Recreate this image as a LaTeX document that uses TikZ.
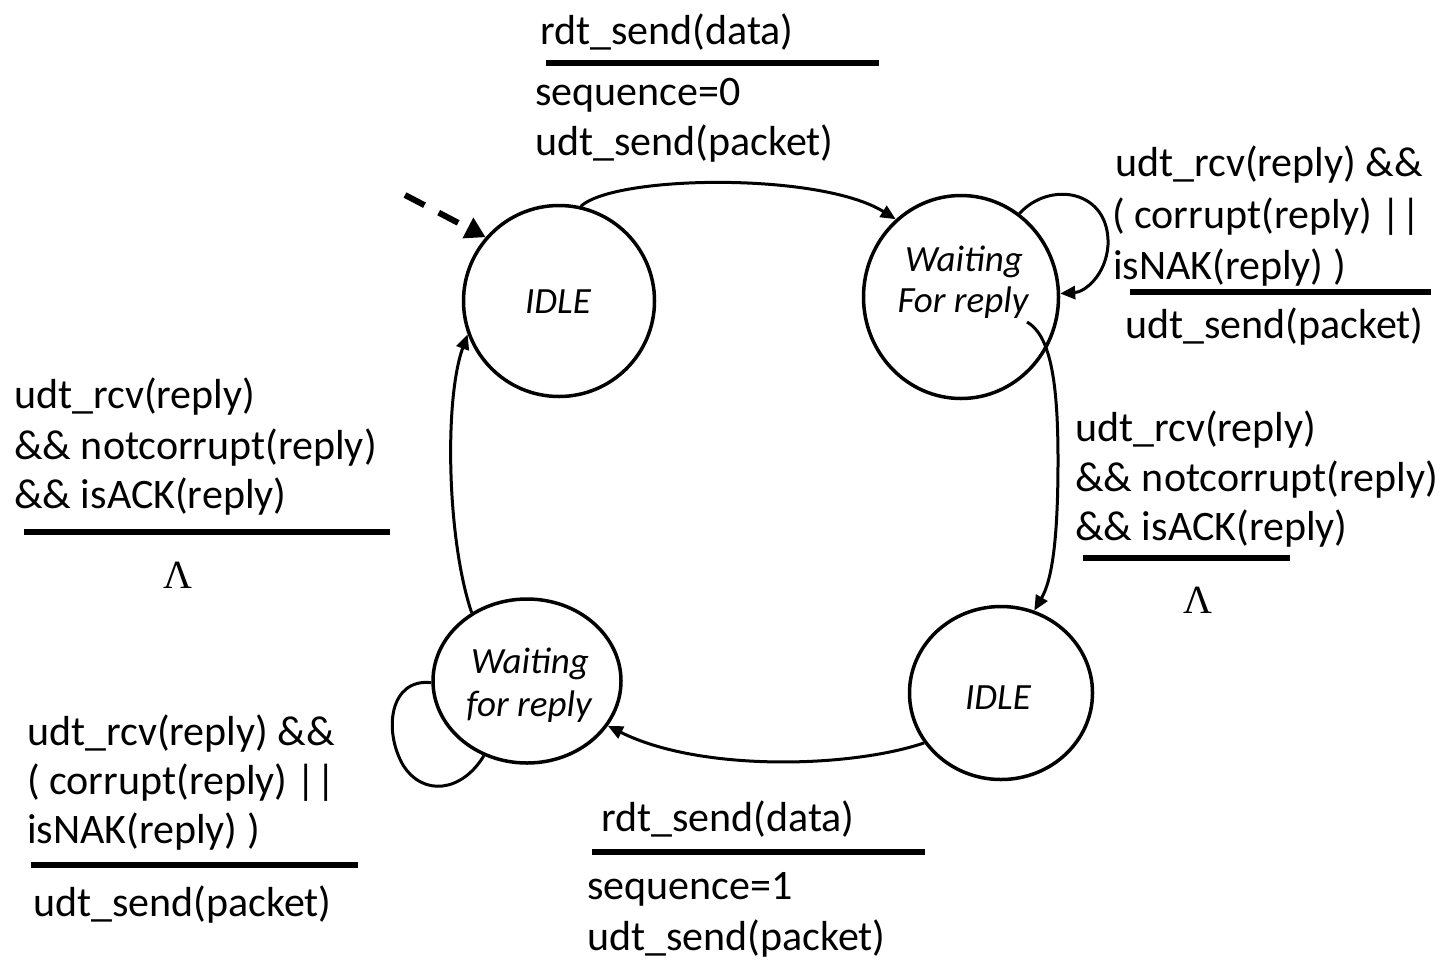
\documentclass[tikz,border=0pt]{standalone}
\usepackage{fontspec}
\setmainfont{Carlito}
\newfontfamily\lamfont{Liberation Serif}
\usetikzlibrary{shapes.geometric,arrows.meta,calc}
\begin{document}
\begin{tikzpicture}[x=1pt,y=-1pt,
  stnode/.style={draw,ellipse,line width=3.5pt,inner sep=0pt},
  sttext/.style={anchor=base,inner sep=0pt,font=\itshape\fontsize{37}{43}\selectfont},
  lbl/.style={anchor=base west,inner sep=0pt,font=\fontsize{42}{50}\selectfont},
  lam/.style={anchor=base,inner sep=0pt,font=\lamfont\fontsize{40}{48}\selectfont},
  sepline/.style={line width=5.5pt},
  trans/.style={line width=3pt,-{Triangle[length=15pt,width=13pt]}},
  loopline/.style={line width=3pt},
  initarrow/.style={line width=6pt,dash pattern=on 22pt off 16pt,-{Triangle[length=20pt,width=22pt]}},
]
\useasboundingbox (0,0) rectangle (1447,959);

% states
\node[stnode,minimum width=191pt,minimum height=191pt] (s1) at (559,301) {};
\node[stnode,minimum width=195pt,minimum height=203pt] (s2) at (961,297) {};
\node[stnode,minimum width=183pt,minimum height=173pt] (s3) at (1001,693) {};
\node[stnode,minimum width=188pt,minimum height=164pt] (s4) at (527,681) {};

\node[sttext] (t1) at (558,313) {IDLE};
\node[sttext] (t2a) at (964,271) {Waiting};
\node[sttext] (t2b) at (963,312) {For reply};
\node[sttext] (t3) at (998,709) {IDLE};
\node[sttext] (t4a) at (530,673) {Waiting};
\node[sttext] (t4b) at (529,716) {for reply};

% transitions
\coordinate (init) at (405,195);
\draw[initarrow] (init) -- (s1.139);
\draw[trans] (s1.77) .. controls (615,175) and (820,172) .. (s2.130);
\draw[trans] (s2.55) .. controls (1050,180) and (1110,190) .. (1108,245)
  .. controls (1106,275) and (1085,292) .. (s2.2);
\draw[trans] ($(s2.center)+(66,25)$) .. controls (1050,335) and (1058,380) .. (1058,460)
  .. controls (1058,540) and (1052,580) .. (s3.68);
\draw[trans] (s3.213) .. controls (850,768) and (700,772) .. (s4.-29);
\draw[loopline] (s4.181) .. controls (390,678) and (383,730) .. (403,765)
  .. controls (423,797) and (462,792) .. (s4.240);
\draw[trans] (s4.129) .. controls (447,540) and (444,400) .. (s1.200);

% top label
\node[lbl] (a1) at (540,44) {rdt\_send(data)};
\draw[sepline] (546,63) -- (879,63);
\node[lbl] (a2) at (535,105) {sequence=0};
\node[lbl] (a3) at (535,155) {udt\_send(packet)};

% top-right label
\node[lbl] (b1) at (1115,176) {udt\_rcv(reply) \&\&};
\node[lbl] (b2) at (1112,228) {( corrupt(reply) ||};
\node[lbl] (b3) at (1113,279) {isNAK(reply) )};
\draw[sepline] (1130,292) -- (1431,292);
\node[lbl] (b4) at (1125,338) {udt\_send(packet)};

% right label
\node[lbl] (c1) at (1075,441) {udt\_rcv(reply)};
\node[lbl] (c2) at (1075,491) {\&\& notcorrupt(reply)};
\node[lbl] (c3) at (1075,540) {\&\& isACK(reply)};
\draw[sepline] (1083,558) -- (1290,558);
\node[lam] (c4) at (1198,613) {Λ};

% left label
\node[lbl] (d1) at (14,408) {udt\_rcv(reply)};
\node[lbl] (d2) at (14,459) {\&\& notcorrupt(reply)};
\node[lbl] (d3) at (14,508) {\&\& isACK(reply)};
\draw[sepline] (24,532) -- (390,532);
\node[lam] (d4) at (178,588) {Λ};

% bottom-left label
\node[lbl] (e1) at (27,745) {udt\_rcv(reply) \&\&};
\node[lbl] (e2) at (27,794) {( corrupt(reply) ||};
\node[lbl] (e3) at (27,843) {isNAK(reply) )};
\draw[sepline] (31,865) -- (358,865);
\node[lbl] (e4) at (33,916) {udt\_send(packet)};

% bottom label
\node[lbl] (f1) at (601,831) {rdt\_send(data)};
\draw[sepline] (592,852) -- (925,852);
\node[lbl] (f2) at (587,899) {sequence=1};
\node[lbl] (f3) at (587,950) {udt\_send(packet)};
\end{tikzpicture}
\end{document}
